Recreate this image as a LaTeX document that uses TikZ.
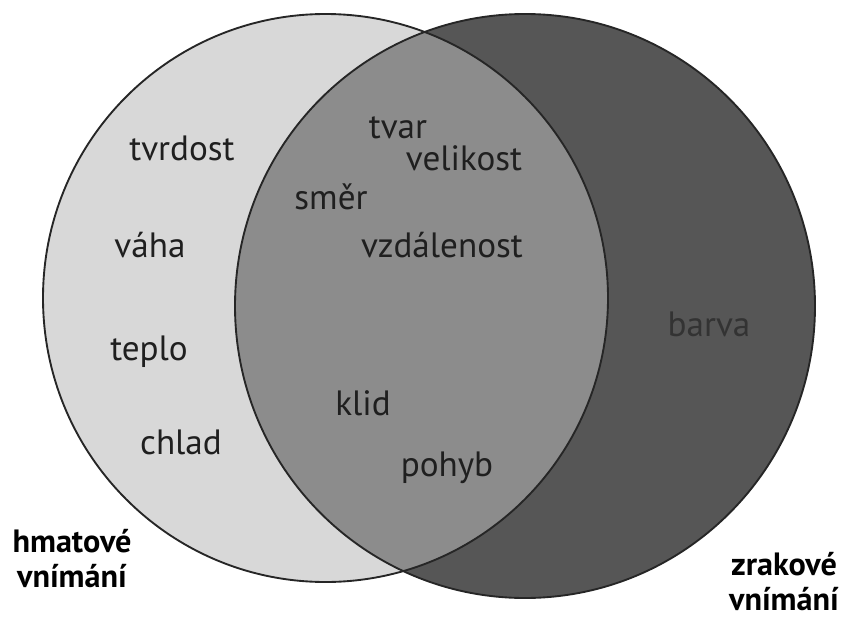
\documentclass[tikz,border=0pt]{standalone}
\usepackage{fontspec}
\setmainfont{PT Sans}
\usetikzlibrary{positioning}
\definecolor{hapt}{HTML}{D8D8D8}
\definecolor{both}{HTML}{8C8C8C}
\definecolor{visu}{HTML}{565656}
\tikzset{
  word/.style={font=\fontsize{30}{34}\selectfont,text=black!88,inner sep=0pt},
  darkword/.style={word,text=black!80},
  side/.style={font=\bfseries\fontsize{27.5}{29.5}\selectfont,align=center,inner sep=0pt,anchor=south}
}

\begin{document}
\begin{tikzpicture}[x=0.3mm,y=-0.3mm]
  \useasboundingbox (0,0) rectangle (845,619);
  % the two sets
  \coordinate (hc) at (325.5,298);
  \coordinate (vc) at (525,306);
  \fill[hapt] (hc) ellipse [x radius=282.5,y radius=284];
  \fill[visu] (vc) ellipse [x radius=290,y radius=292];
  \begin{scope}
    \clip (hc) ellipse [x radius=282.5,y radius=284];
    \fill[both] (vc) ellipse [x radius=290,y radius=292];
  \end{scope}
  \draw[line width=1.6pt,black!85] (hc) ellipse [x radius=282.5,y radius=284];
  \draw[line width=1.6pt,black!85] (vc) ellipse [x radius=290,y radius=292];

  % touch only
  \node[word] (tvrdost) at (182,148) {tvrdost};
  \node[word] (vaha) at (150,245) {váha};
  \node[word] (teplo) at (149,352) {teplo};
  \node[word] (chlad) at (181,442) {chlad};

  % touch and sight
  \node[word] (tvar) at (398,128) {tvar};
  \node[word] (velikost) at (464,158) {velikost};
  \node[word] (smer) at (331,197) {směr};
  \node[word] (vzdalenost) at (442,245) {vzdálenost};
  \node[word] (klid) at (363,403) {klid};
  \node[word] (pohyb) at (447,468) {pohyb};

  % sight only
  \node[darkword] (barva) at (709,324) {barva};

  % set names
  \node[side] (hmat) at (72,588) {hmatové\\vnímání};
  \node[side] (zrak) at (784,611) {zrakové\\vnímání};
\end{tikzpicture}
\end{document}
